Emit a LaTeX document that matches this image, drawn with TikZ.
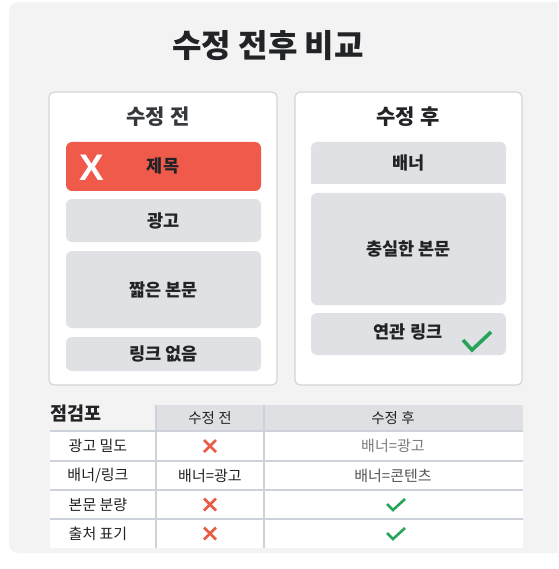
\documentclass[tikz,border=0pt]{standalone}
\usepackage{fontspec}
\setmainfont{Noto Sans CJK KR}
\newfontfamily\xfont{Liberation Sans}
\begin{document}
\begin{tikzpicture}[x=1pt,y=-1pt,
  card/.style={draw=cardline,line width=1.2pt,fill=white,rounded corners=5pt,inner sep=0pt},
  blk/.style={fill=blkgray,rounded corners=6pt,inner sep=0pt},
  blktxt/.style={font=\fontsize{17.5}{20}\selectfont\bfseries,text=txtdark},
  cardtitle/.style={font=\fontsize{21}{24}\selectfont\bfseries,text=titlegray},
  celltxt/.style={font=\fontsize{15}{18}\selectfont,text=txtdark},
  hdrtxt/.style={font=\fontsize{14.5}{17}\selectfont,text=txtdark},
  sepline/.style={draw=sepcol,line width=1.3pt},
  xmark/.style={draw=xred,line width=2.6pt},
  cmark/.style={draw=okgreen,line width=2.6pt,line join=miter},
]
\definecolor{panel}{HTML}{F3F3F3}
\definecolor{cardline}{HTML}{D3D5DB}
\definecolor{blkgray}{HTML}{E0E1E5}
\definecolor{redbox}{HTML}{F05A4B}
\definecolor{txtdark}{HTML}{222326}
\definecolor{titlegray}{HTML}{35383C}
\definecolor{sepcol}{HTML}{CDD1D9}
\definecolor{hdrfill}{HTML}{DFE0E4}
\definecolor{xred}{HTML}{EA5A44}
\definecolor{okgreen}{HTML}{27A35A}
\definecolor{lightgraytxt}{HTML}{7C7C7C}
\definecolor{midgraytxt}{HTML}{555555}

\useasboundingbox (0,0) rectangle (558,569);
\begin{scope}
\clip (0,0) rectangle (558,569);
\fill[panel,rounded corners=9pt] (9,2) rectangle (575,553);
\end{scope}

% title
\node[font=\fontsize{32}{36}\selectfont\bfseries,text=txtdark] (title) at (268,46) {수정 전후 비교};

% left card
\node[card,minimum width=228pt,minimum height=293pt] (lcard) at (163,238.5) {};
\node[cardtitle] (ltitle) at (158,117) {수정 전};
\node[fill=redbox,rounded corners=6pt,inner sep=0pt,minimum width=195pt,minimum height=49pt] (lred) at (163.5,166.5) {};
\node[blktxt] (ljemok) at (163,166) {제목};
\node[font=\xfont\fontsize{37}{40}\selectfont\bfseries,text=white] (lx) at (92,168) {X};
\node[blk,minimum width=195pt,minimum height=43pt] (lad) at (163.5,220.5) {};
\node[blktxt] at (lad) {광고};
\node[blk,minimum width=195pt,minimum height=77pt] (lbody) at (163.5,289.5) {};
\node[blktxt] at (lbody) {짧은 본문};
\node[blk,minimum width=195pt,minimum height=34pt] (llink) at (163.5,354) {};
\node[blktxt] at (llink) {링크 없음};

% right card
\node[card,minimum width=227pt,minimum height=293pt] (rcard) at (408.5,238.5) {};
\node[cardtitle,text=txtdark] (rtitle) at (408,117) {수정 후};
\fill[blkgray,rounded corners=6pt] (311,142) rectangle (506,172);
\fill[blkgray] (311,160) rectangle (506,184);
\node[blktxt] (rbanner) at (408.5,163) {배너};
\node[blk,minimum width=195pt,minimum height=112pt] (rbody) at (408.5,249) {};
\node[blktxt] at (rbody) {충실한 본문};
\node[blk,minimum width=195pt,minimum height=42pt] (rlink) at (408.5,334) {};
\node[blktxt] (rlinktxt) at (408,332) {연관 링크};
\draw[okgreen,line width=3.6pt] (463,340) -- (472,350) -- (491,332);

% table
\fill[white] (50,431) rectangle (523,548);
\fill[hdrfill] (156,405) rectangle (523,431);
\foreach \yy in {431,461,490,519}{
  \draw[sepline] (50,\yy) -- (523,\yy);
}
\draw[sepline] (156,405) -- (156,548);
\draw[sepline] (264,405) -- (264,548);

\node[font=\fontsize{18.5}{22}\selectfont\bfseries,text=txtdark,anchor=west,inner sep=0pt] (tabtitle) at (50,413) {점검포};
\node[hdrtxt] (h1) at (210,418) {수정 전};
\node[hdrtxt] (h2) at (393,418) {수정 후};

\node[celltxt] (r1) at (98,446) {광고 밀도};
\node[celltxt] (r2) at (98,475.5) {배너/링크};
\node[celltxt] (r3) at (98,504.5) {본문 분량};
\node[celltxt] (r4) at (98,533.5) {출처 표기};

% row 1
\draw[xmark] (204,440) -- (216,452) (204,452) -- (216,440);
\node[celltxt,text=lightgraytxt] (c13) at (393,446) {배너=광고};
% row 2
\node[celltxt] (c22) at (210,475.5) {배너=광고};
\node[celltxt,text=midgraytxt] (c23) at (393,475.5) {배너=콘텐츠};
% row 3
\draw[xmark] (204,498.5) -- (216,510.5) (204,510.5) -- (216,498.5);
\draw[cmark] (387,504) -- (393,510) -- (405,499);
% row 4
\draw[xmark] (204,527.5) -- (216,539.5) (204,539.5) -- (216,527.5);
\draw[cmark] (387,533) -- (393,539) -- (405,528);
\end{tikzpicture}
\end{document}
